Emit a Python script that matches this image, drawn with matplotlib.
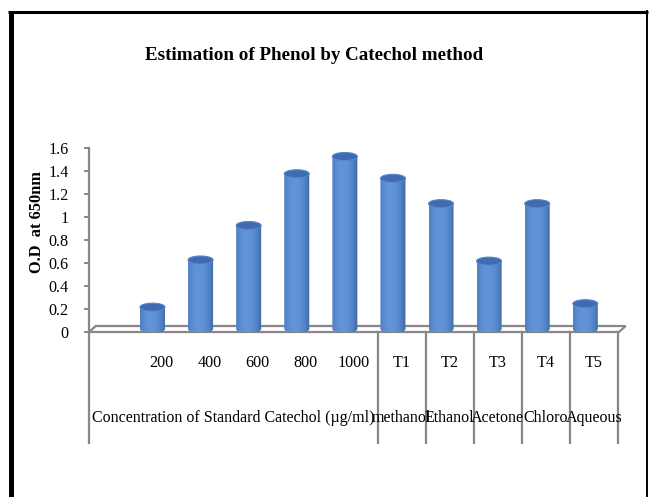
import matplotlib
matplotlib.use('Agg')
import matplotlib.pyplot as plt
import numpy as np
from matplotlib.patches import Ellipse, Polygon, PathPatch, Rectangle
from matplotlib.path import Path
from matplotlib.lines import Line2D
import matplotlib.transforms as mtransforms

# ---------------- data ----------------
categories = ['', '200', '400', '600', '800', '1000', 'T1', 'T2', 'T3', 'T4', 'T5']
values = [None, 0.19, 0.60, 0.90, 1.35, 1.50, 1.31, 1.09, 0.59, 1.09, 0.22]
groups = ['Concentration of Standard Catechol (\u00b5g/ml)', 'methanol', 'Ethanol',
          'Acetone', 'Chloro', 'Aqueous']
group_spans = [6, 1, 1, 1, 1, 1]
yticks = [0, 0.2, 0.4, 0.6, 0.8, 1.0, 1.2, 1.4, 1.6]
ytick_labels = ['0', '0.2', '0.4', '0.6', '0.8', '1', '1.2', '1.4', '1.6']
title = 'Estimation of Phenol by Catechol method'
ylabel = 'O.D  at 650nm'

# ---------------- style ----------------
plt.rcParams['font.family'] = ['Liberation Serif', 'DejaVu Serif']
W, H = 649, 497
GRAY = '#878787'
fig = plt.figure(figsize=(W / 100, H / 100), dpi=100)
fig.patch.set_facecolor('white')

ax = fig.add_axes([89 / W, 1 - 332 / H, 529 / W, 184 / H])
n = len(categories)
ax.set_facecolor('none')
for s in ['top', 'right', 'bottom']:
    ax.spines[s].set_visible(False)
ax.spines['left'].set_color(GRAY)
ax.spines['left'].set_linewidth(1.6)
ax.set_xticks([])
ax.set_yticks(yticks)
ax.set_yticklabels(ytick_labels)
ax.tick_params(axis='y', length=3.6, width=1.4, color=GRAY, pad=11, labelsize=11.6)

# floor (3D base) drawn in data units
depth_dx, depth_dy = 0.14, 0.052
floor = Polygon([(-0.5, 0), (n - 0.5 + 0.02, 0), (n - 0.5 + 0.02 + depth_dx, depth_dy),
                 (-0.5 + depth_dx, depth_dy)], closed=True, facecolor='none',
                edgecolor=GRAY, lw=1.6, clip_on=False, zorder=1)
ax.add_patch(floor)

# cylinders
bar_w = 0.52
bar_shift = -0.18
base = 0.026
ell_h = 0.07
dark = np.array([0.18, 0.33, 0.58])
light = np.array([0.38, 0.58, 0.85])
u = np.linspace(0, 1, 60)
inten = np.clip(1 - ((u - 0.42) / 0.62) ** 2, 0, 1) ** 0.7
grad = dark[None, :] + (light - dark)[None, :] * inten[:, None]
grad_img = grad[None, :, :]

for i, v in enumerate(values):
    if v is None:
        continue
    xc = i + bar_shift
    x0, x1 = xc - bar_w / 2, xc + bar_w / 2
    top = v + base
    t = np.linspace(np.pi, 2 * np.pi, 40)
    arc = np.column_stack([xc + bar_w / 2 * np.cos(t), base + ell_h / 2 * np.sin(t)])
    pts = np.vstack([[x0, top], arc, [x1, top], [x0, top]])
    path = Path(pts)
    patch = PathPatch(path, facecolor='none', edgecolor='none', transform=ax.transData)
    ax.add_patch(patch)
    im = ax.imshow(grad_img, extent=[x0, x1, base - ell_h, top], aspect='auto',
                   origin='lower', zorder=3, interpolation='bilinear')
    im.set_clip_path(patch)
    ax.add_patch(Ellipse((xc, top), bar_w, ell_h, facecolor=(0.25, 0.42, 0.69),
                         edgecolor=(0.34, 0.53, 0.80), lw=0.8, zorder=4))

ax.set_xlim(-0.5, n - 0.5)
ax.set_ylim(0, 1.6)

# category axis (two levels)
blend = mtransforms.blended_transform_factory(ax.transData, ax.transAxes)
div_bottom = -111 / 184
bounds = [-0.5]
for sp in group_spans:
    bounds.append(bounds[-1] + sp)
for b in bounds:
    ax.add_line(Line2D([b, b], [0, div_bottom], transform=blend, color=GRAY,
                       lw=1.6, clip_on=False))

for i, lab in enumerate(categories):
    ax.text(i, -31 / 184, lab, transform=blend, ha='center', va='center', fontsize=11.6)

for g, lab in enumerate(groups):
    a, b = bounds[g], bounds[g + 1]
    txt = ax.text((a + b) / 2, -86 / 184, lab, transform=blend, ha='center',
                  va='center', fontsize=11.5, clip_on=False)
    clip = Rectangle((a, -1.0), b - a, 1.0, transform=blend, facecolor='none',
                     edgecolor='none')
    txt.set_clip_path(clip)

# titles
fig.text(314 / W, 1 - 55 / H, title, ha='center', va='center', fontsize=13.7,
         fontweight='bold')
fig.text(37 / W, 1 - 222 / H, ylabel, ha='center', va='center', fontsize=11.8,
         fontweight='bold', rotation=90)

# frame around figure (left, top, right)
fig.add_artist(Line2D([10.5 / W, 10.5 / W], [0, 1 - 11.5 / H], transform=fig.transFigure,
                      color='black', lw=3.6, solid_capstyle='butt'))
fig.add_artist(Line2D([8 / W, 648 / W], [1 - 11.5 / H, 1 - 11.5 / H],
                      transform=fig.transFigure, color='black', lw=2.2,
                      solid_capstyle='butt'))
fig.add_artist(Line2D([646.8 / W, 646.8 / W], [0, 1 - 10 / H], transform=fig.transFigure,
                      color='black', lw=1.4, solid_capstyle='butt'))

fig.savefig('out.png', dpi=100)
